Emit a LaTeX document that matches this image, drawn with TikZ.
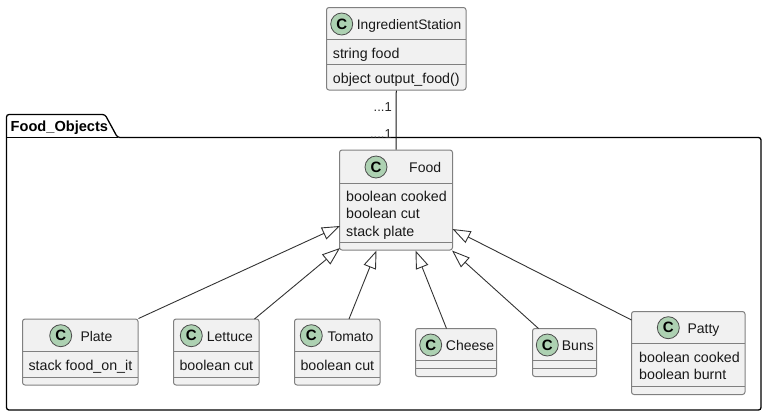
\documentclass[tikz,border=0pt]{standalone}
\usepackage{fontspec}
\setmainfont{Liberation Sans}
\usetikzlibrary{arrows.meta,calc}
\definecolor{boxfill}{HTML}{F1F1F1}
\definecolor{boxline}{HTML}{808080}
\definecolor{spot}{HTML}{ADD1B2}
\tikzset{
  cls/.style={draw=boxline,fill=boxfill,rounded corners=2.5pt,line width=1pt,inner sep=0pt},
  sepline/.style={draw=boxline,line width=1pt},
  spotc/.style={circle,draw=black!70,fill=spot,line width=0.8pt,minimum size=22pt,inner sep=0pt,font=\fontsize{15}{15}\selectfont\bfseries},
  txt/.style={anchor=base west,inner sep=0pt,text=black!90,font=\fontsize{14.25}{17}\selectfont},
  nametxt/.style={anchor=base west,inner sep=0pt,text=black!90,font=\fontsize{14}{17}\selectfont},
  mult/.style={anchor=base east,inner sep=0pt,text=black!85,font=\fontsize{13}{15}\selectfont},
  title/.style={anchor=base west,inner sep=0pt,font=\fontsize{14.6}{17}\selectfont\bfseries},
  pkg/.style={draw=black,line width=1.3pt,rounded corners=2.5pt},
  assoc/.style={draw=black!90,line width=1pt},
  gen/.style={draw=black!80,line width=0.9pt,-{Triangle[open,length=18pt,width=13pt,line width=0.9pt]}},
}
\newcommand{\umlbox}[7]{% name, cx, cy, w, h, spot x, spot y
  \node[cls,minimum width=#4pt,minimum height=#5pt] (#1) at (#2,#3) {};
  \node[spotc] (#1spot) at (#6,#7) {C};
}
\begin{document}
\begin{tikzpicture}[x=1pt,y=-1pt]
\useasboundingbox (0,0) rectangle (767,416);
% package
\draw[pkg] (6.5,137.5) -- (6.5,114.5) -- (105,114.5) -- (117.5,137.5) -- (761,137.5) -- (761,410) -- (6.5,410) -- cycle;
\draw[pkg,rounded corners=0pt] (6.5,137.5) -- (117.5,137.5);
\node[title] (pkgtitle) at (10.5,131) {Food\_Objects};
% classes
\umlbox{is}{396.25}{48.75}{139.5}{82.5}{341.7}{24}
\umlbox{food}{396}{200}{113}{100}{376}{167}
\umlbox{plate}{80.25}{352}{115.5}{66}{60.7}{335.7}
\umlbox{lettuce}{216.25}{352}{85.5}{66}{191.3}{335.7}
\umlbox{tomato}{337.25}{352}{85.5}{66}{311.3}{335.7}
\umlbox{cheese}{456}{352.5}{81}{48}{430.7}{345}
\umlbox{buns}{564.5}{352.5}{64}{48}{547.3}{345}
\umlbox{patty}{688.25}{353}{113.5}{83}{668.3}{327.7}
% separators
\draw[sepline] (326.5,39.5) -- (466,39.5) (326.5,64.5) -- (466,64.5);
\draw[sepline] (339.5,183) -- (452.5,183) (339.5,242) -- (452.5,242);
\draw[sepline] (22.5,351.5) -- (138,351.5) (22.5,377.5) -- (138,377.5);
\draw[sepline] (173.5,351.5) -- (259,351.5) (173.5,377.5) -- (259,377.5);
\draw[sepline] (294.5,351.5) -- (380,351.5) (294.5,377.5) -- (380,377.5);
\draw[sepline] (415.5,360.5) -- (496.5,360.5) (415.5,368.5) -- (496.5,368.5);
\draw[sepline] (532.5,360.5) -- (596.5,360.5) (532.5,368.5) -- (596.5,368.5);
\draw[sepline] (631.5,343) -- (745,343) (631.5,386.5) -- (745,386.5);
% texts
\node[nametxt,font=\fontsize{13.8}{17}\selectfont] (isname) at (356.7,29) {IngredientStation};
\node[txt] (isf) at (332.7,58) {string food};
\node[txt] (ism) at (332.7,83) {object output\_food()};
\node[nametxt] (foodname) at (409,172) {Food};
\node[txt] (foodf1) at (346,201) {boolean cooked};
\node[txt] (foodf2) at (346,218) {boolean cut};
\node[txt] (foodf3) at (346,236) {stack plate};
\node[nametxt] (platename) at (80.3,341) {Plate};
\node[txt] (platef) at (28.3,370) {stack food\_on\_it};
\node[nametxt] (lettucename) at (206.7,341) {Lettuce};
\node[txt] (lettucef) at (179.3,370) {boolean cut};
\node[nametxt] (tomatoname) at (327.3,341) {Tomato};
\node[txt] (tomatof) at (300.3,370) {boolean cut};
\node[nametxt] (cheesename) at (445.7,350) {Cheese};
\node[nametxt] (bunsname) at (561.7,350) {Buns};
\node[nametxt] (pattyname) at (687.3,333) {Patty};
\node[txt] (pattyf1) at (639,362) {boolean cooked};
\node[txt] (pattyf2) at (639,379) {boolean burnt};
% multiplicities
\node[mult] (m1) at (392,111) {...1};
\node[mult] (m2) at (392,138) {....1};
% connectors
\draw[assoc] (is.south) -- (food.north);
\coordinate (tplate) at (340,226);
\coordinate (tlettuce) at (340,248);
\coordinate (ttomato) at (376.5,250.5);
\coordinate (tcheese) at (415.5,250.5);
\coordinate (tbuns) at (452,250.5);
\coordinate (tpatty) at (452.5,229);
\coordinate (slettuce) at (254.5,319);
\coordinate (stomato) at (349,319);
\coordinate (scheese) at (446.5,328.5);
\coordinate (sbuns) at (538.5,328.5);
\coordinate (spatty) at (631.5,320);
\draw[gen] (plate.north east) -- (tplate);
\draw[gen] (slettuce) -- (tlettuce);
\draw[gen] (stomato) -- (ttomato);
\draw[gen] (scheese) -- (tcheese);
\draw[gen] (sbuns) -- (tbuns);
\draw[gen] (spatty) -- (tpatty);
\end{tikzpicture}
\end{document}
